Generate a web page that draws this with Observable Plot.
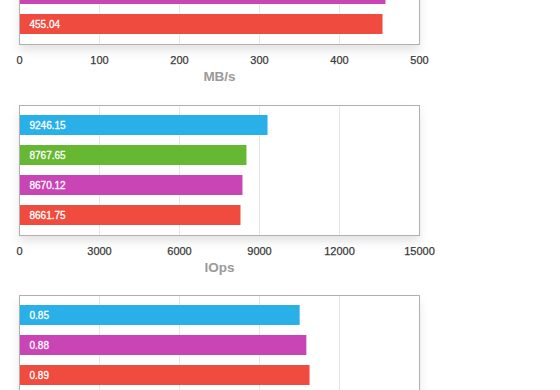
<!DOCTYPE html>
<html>
<head>
<meta charset="utf-8">
<script src="https://cdn.jsdelivr.net/npm/d3@7"></script>
<script src="https://cdn.jsdelivr.net/npm/@observablehq/plot@0.6"></script>
<style>
  html, body { margin: 0; padding: 0; background: #fff; }
  #root { position: relative; width: 560px; height: 390px; overflow: hidden; background: #fff; }
  #root > div { position: absolute; left: 0; }
  svg { overflow: visible; }
  .tickw g[aria-label="x-axis tick label"] text { stroke: #3a3a3a; stroke-width: 0.25px; }
</style>
</head>
<body>
<div id="root"></div>
<script>
// ---- data ----
const seriesNames  = ["A", "B", "C", "D"];
const seriesColors = ["#29b0e8", "#66b832", "#c944b5", "#ef4b3e"];

// Panel 1 (MB/s) – only the two lowest bars are visible
const mbSeries = ["C", "D"];
const mbValues = [458.1, 454.4];
const mbLabels = ["", "455.04"];
const mbTicks  = [0, 100, 200, 300, 400, 500];

// Panel 2 (IOps)
const iopsSeries = ["A", "B", "C", "D"];
const iopsValues = [9320, 8530, 8380, 8306];
const iopsLabels = ["9246.15", "8767.65", "8670.12", "8661.75"];
const iopsTicks  = [0, 3000, 6000, 9000, 12000, 15000];

// Panel 3 – axis not visible
const p3Series = ["A", "C", "D"];
const p3Values = [0.877, 0.898, 0.908];
const p3Labels = ["0.85", "0.88", "0.89"];
const p3Ticks  = [0, 0.25, 0.5, 0.75, 1, 1.25];

function panel({series, values, labels, ticks, title, top}) {
  const data = series.map((s, i) => ({s, v: values[i], label: labels[i]}));
  const marks = [
    Plot.frame({fill: "white", stroke: "none"}),
    Plot.gridX(ticks, {stroke: "#e6e6e6", strokeOpacity: 1}),
    Plot.barX(data, {x: "v", y: "s", fill: "s"}),
    Plot.text(data, {y: "s", text: "label", frameAnchor: "left", dx: 10, textAnchor: "start",
                     fill: "white", stroke: "white", strokeWidth: 0.3, fontSize: 10}),
    Plot.frame({stroke: "#b0b0b0"})
  ];
  if (title) {
    marks.push(Plot.axisX({ticks, tickSize: 0, tickPadding: 12, fontSize: 11, fill: "#3a3a3a",
                           tickFormat: d => String(d), label: null}));
    marks.push(Plot.text([title], {text: d => d, frameAnchor: "bottom", dy: 36,
                                   fontSize: 13.5, fontWeight: "bold", fill: "#9a9a9a"}));
  }
  const chart = Plot.plot({
    width: 560,
    height: 10 + (series.length * 30 + 10) + 50,
    marginLeft: 19, marginRight: 141, marginTop: 10, marginBottom: 50,
    className: "tickw",
    style: {fontFamily: "'Liberation Sans', Arial, Helvetica, sans-serif", background: "transparent"},
    x: {domain: [ticks[0], ticks[ticks.length - 1]], axis: title ? undefined : null},
    y: {domain: series, paddingInner: 1/3, paddingOuter: 1/3, axis: null, round: false},
    color: {domain: seriesNames, range: seriesColors},
    marks
  });
  // soft shadow under the frame
  const svg = d3.select(chart);
  const id = "sh" + Math.random().toString(36).slice(2);
  const defs = svg.insert("defs", ":first-child");
  const f = defs.append("filter").attr("id", id).attr("x", "-10%").attr("y", "-10%")
    .attr("width", "120%").attr("height", "140%");
  f.append("feDropShadow").attr("dx", 0).attr("dy", 6).attr("stdDeviation", 5)
    .attr("flood-color", "#000").attr("flood-opacity", 0.11);
  svg.select('[aria-label="frame"]').attr("filter", `url(#${id})`);
  const wrap = document.createElement("div");
  wrap.style.top = top + "px";
  wrap.appendChild(chart);
  document.getElementById("root").appendChild(wrap);
}

panel({series: mbSeries, values: mbValues, labels: mbLabels, ticks: mbTicks, title: "MB/s", top: -36});
panel({series: iopsSeries, values: iopsValues, labels: iopsLabels, ticks: iopsTicks, title: "IOps", top: 95});
panel({series: p3Series, values: p3Values, labels: p3Labels, ticks: p3Ticks, title: null, top: 285});
</script>
</body>
</html>
